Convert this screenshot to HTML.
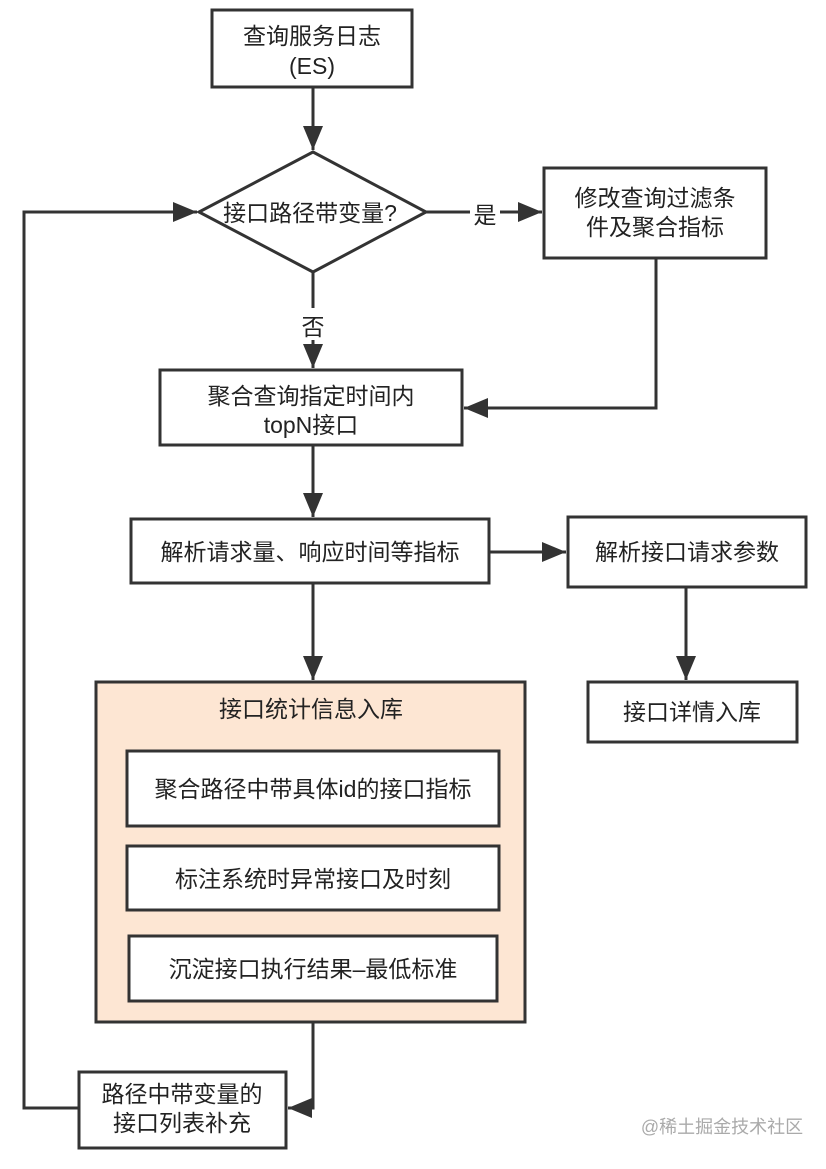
<!DOCTYPE html>
<html><head><meta charset="utf-8"><style>
body{margin:0;background:#fff;}
svg text{font-family:"Liberation Sans","Noto Sans CJK SC",sans-serif;fill:#222;}
</style></head><body>
<svg width="826" height="1164" viewBox="0 0 826 1164" xmlns="http://www.w3.org/2000/svg">
<defs><marker id="b" markerWidth="24" markerHeight="20" refX="24" refY="10" orient="auto" markerUnits="userSpaceOnUse"><path d="M0,0 L24,10 L0,20 z" fill="#333"/></marker></defs>
<g stroke="#333" stroke-width="3" fill="none">
<rect x="212" y="10" width="200" height="77" fill="#fff"/>
<polygon points="313,152 426,212 313,272 199,212" fill="#fff"/>
<rect x="544" y="168" width="222" height="90" fill="#fff"/>
<rect x="160" y="370" width="302" height="75" fill="#fff"/>
<rect x="131" y="519" width="358" height="64" fill="#fff"/>
<rect x="568" y="517" width="238" height="70" fill="#fff"/>
<rect x="588" y="682" width="209" height="60" fill="#fff"/>
<rect x="96" y="682" width="429" height="340" fill="#fde6d3"/>
<rect x="127" y="751" width="372" height="75" fill="#fff"/>
<rect x="127" y="846" width="372" height="64" fill="#fff"/>
<rect x="129" y="936" width="368" height="65" fill="#fff"/>
<rect x="79" y="1072" width="207" height="76" fill="#fff"/>
<path d="M313,87 V150" marker-end="url(#b)"/>
<path d="M426,212 H470"/>
<path d="M500,212 H542" marker-end="url(#b)"/>
<path d="M656,258 V408 H464" marker-end="url(#b)"/>
<path d="M313,272 V308"/>
<path d="M313,340 V368" marker-end="url(#b)"/>
<path d="M313,445 V517" marker-end="url(#b)"/>
<path d="M489,552 H566" marker-end="url(#b)"/>
<path d="M686,587 V680" marker-end="url(#b)"/>
<path d="M313,583 V680" marker-end="url(#b)"/>
<path d="M313,1022 V1108 H288" marker-end="url(#b)"/>
<path d="M79,1108 H24 V212 H197" marker-end="url(#b)"/>
</g>
<g font-size="23" text-anchor="middle">
<text x="312" y="44">查询服务日志</text>
<text x="312" y="74">(ES)</text>
<text x="310" y="221">接口路径带变量?</text>
<text x="485" y="223">是</text>
<text x="655" y="206">修改查询过滤条</text>
<text x="655" y="235">件及聚合指标</text>
<text x="313" y="335">否</text>
<text x="311" y="404">聚合查询指定时间内</text>
<text x="311" y="433">topN接口</text>
<text x="310" y="560">解析请求量、响应时间等指标</text>
<text x="687" y="560">解析接口请求参数</text>
<text x="692" y="720">接口详情入库</text>
<text x="311" y="717">接口统计信息入库</text>
<text x="313" y="797">聚合路径中带具体id的接口指标</text>
<text x="313" y="887">标注系统时异常接口及时刻</text>
<text x="313" y="977">沉淀接口执行结果–最低标准</text>
<text x="182" y="1102">路径中带变量的</text>
<text x="182" y="1131">接口列表补充</text>
<text x="722" y="1133" font-size="18" style="fill:#aaa">@稀土掘金技术社区</text>
</g>
</svg>
</body></html>
